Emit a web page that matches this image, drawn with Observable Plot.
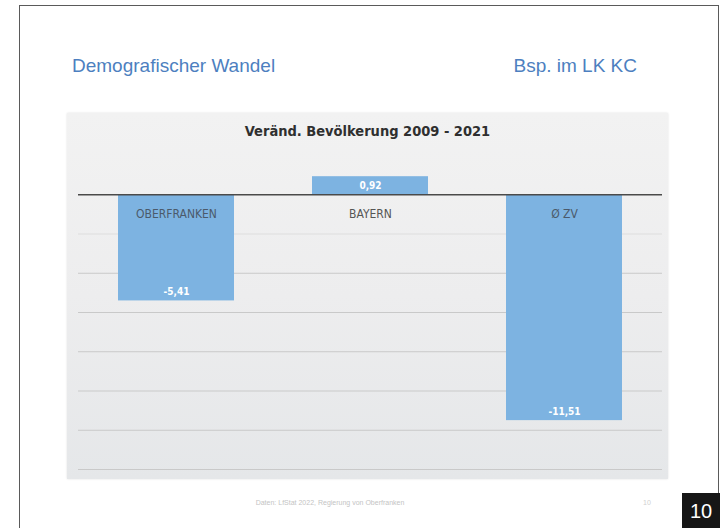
<!DOCTYPE html>
<html>
<head>
<meta charset="utf-8">
<script src="https://cdn.jsdelivr.net/npm/d3@7"></script>
<script src="https://cdn.jsdelivr.net/npm/@observablehq/plot@0.6"></script>
<style>
  html, body { margin: 0; padding: 0; background: #ffffff; }
  #page { position: relative; width: 728px; height: 528px; overflow: hidden; background: #fff; font-family: "Liberation Sans", Arial, sans-serif; }
  #frame { position: absolute; left: 19px; top: 5px; width: 700px; height: 540px; border: 1.5px solid #5a5a5a; box-sizing: border-box; }
  #h-left { position: absolute; left: 72px; top: 55px; font-size: 19px; color: #4d7fc0; }
  #h-right { position: absolute; right: 91px; top: 55px; font-size: 19px; color: #4d7fc0; }
  #panel { position: absolute; left: 67px; top: 113px; width: 601px; height: 366px;
           background: linear-gradient(180deg, #f2f2f2 0%, #ededee 50%, #e5e7e9 100%);
           box-shadow: 0 0 2px rgba(0,0,0,0.12); }
  #ctitle { position: absolute; left: 0; width: 100%; top: 10px; text-align: center;
            font-family: "Liberation Sans Narrow", "DejaVu Sans Condensed", sans-serif; font-weight: bold; font-size: 14.5px; color: #2f2f2f; }
  #chart { position: absolute; left: 0; top: 0; }
  #footer { position: absolute; left: 0; width: 660px; top: 499px; text-align: center; font-size: 7px; color: #c4c4c4; }
  #dot { position: absolute; left: 643px; top: 499px; font-size: 7px; color: #d0d0d0; }
  #num { position: absolute; left: 682px; top: 493px; width: 38px; height: 35px; background: #161616; color: #fff;
         font-size: 20px; text-align: center; line-height: 36px; }
</style>
</head>
<body>
<div id="page">
  <div id="frame"></div>
  <div id="h-left">Demografischer Wandel</div>
  <div id="h-right">Bsp. im LK KC</div>
  <div id="panel">
    <div id="chart"></div>
    <div id="ctitle">Veränd. Bevölkerung 2009 - 2021</div>
  </div>
  <div id="footer">Daten: LfStat 2022, Regierung von Oberfranken</div>
  <div id="dot">10</div>
  <div id="num">10</div>
</div>
<script>
const categories = ["OBERFRANKEN", "BAYERN", "Ø ZV"];
const values = [-5.41, 0.92, -11.51];
const gridTicks = [-2, -4, -6, -8, -10, -12, -14];

const data = categories.map((c, i) => ({cat: c, value: values[i]}));
const fmt = v => v.toFixed(2).replace(".", ",");
const labelFont = "Liberation Sans Narrow, DejaVu Sans Condensed, sans-serif";

const chart = Plot.plot({
  width: 601,
  height: 366,
  marginTop: 42,
  marginBottom: 10,
  marginLeft: 11,
  marginRight: 6,
  style: {background: "transparent", overflow: "visible"},
  x: {domain: categories, paddingInner: 0.4, paddingOuter: 0.2, axis: null},
  y: {domain: [-14, 2], axis: null},
  marks: [
    Plot.ruleY(gridTicks, {stroke: d => d === -2 ? "#dedede" : "#c9c9c9", strokeWidth: 1.2}),
    Plot.barY(data, {x: "cat", y: "value", fill: "#7db3e1"}),
    Plot.ruleY([0], {stroke: "#4a4a4a", strokeWidth: 1.6}),
    Plot.text(data, {x: "cat", y: 0, dy: 19, text: "cat", fill: d => d.value < 0 ? "#4b5a6b" : "#555555",
      fontSize: 12, fontFamily: labelFont}),
    Plot.text(data.filter(d => d.value >= 0), {x: "cat", y: "value", dy: 9, text: d => fmt(d.value), fill: "white",
      fontSize: 10, fontWeight: "bold", fontFamily: labelFont}),
    Plot.text(data.filter(d => d.value < 0), {x: "cat", y: "value", dy: -9, text: d => fmt(d.value), fill: "white",
      fontSize: 10, fontWeight: "bold", fontFamily: labelFont})
  ]
});
document.getElementById("chart").appendChild(chart);
</script>
</body>
</html>
